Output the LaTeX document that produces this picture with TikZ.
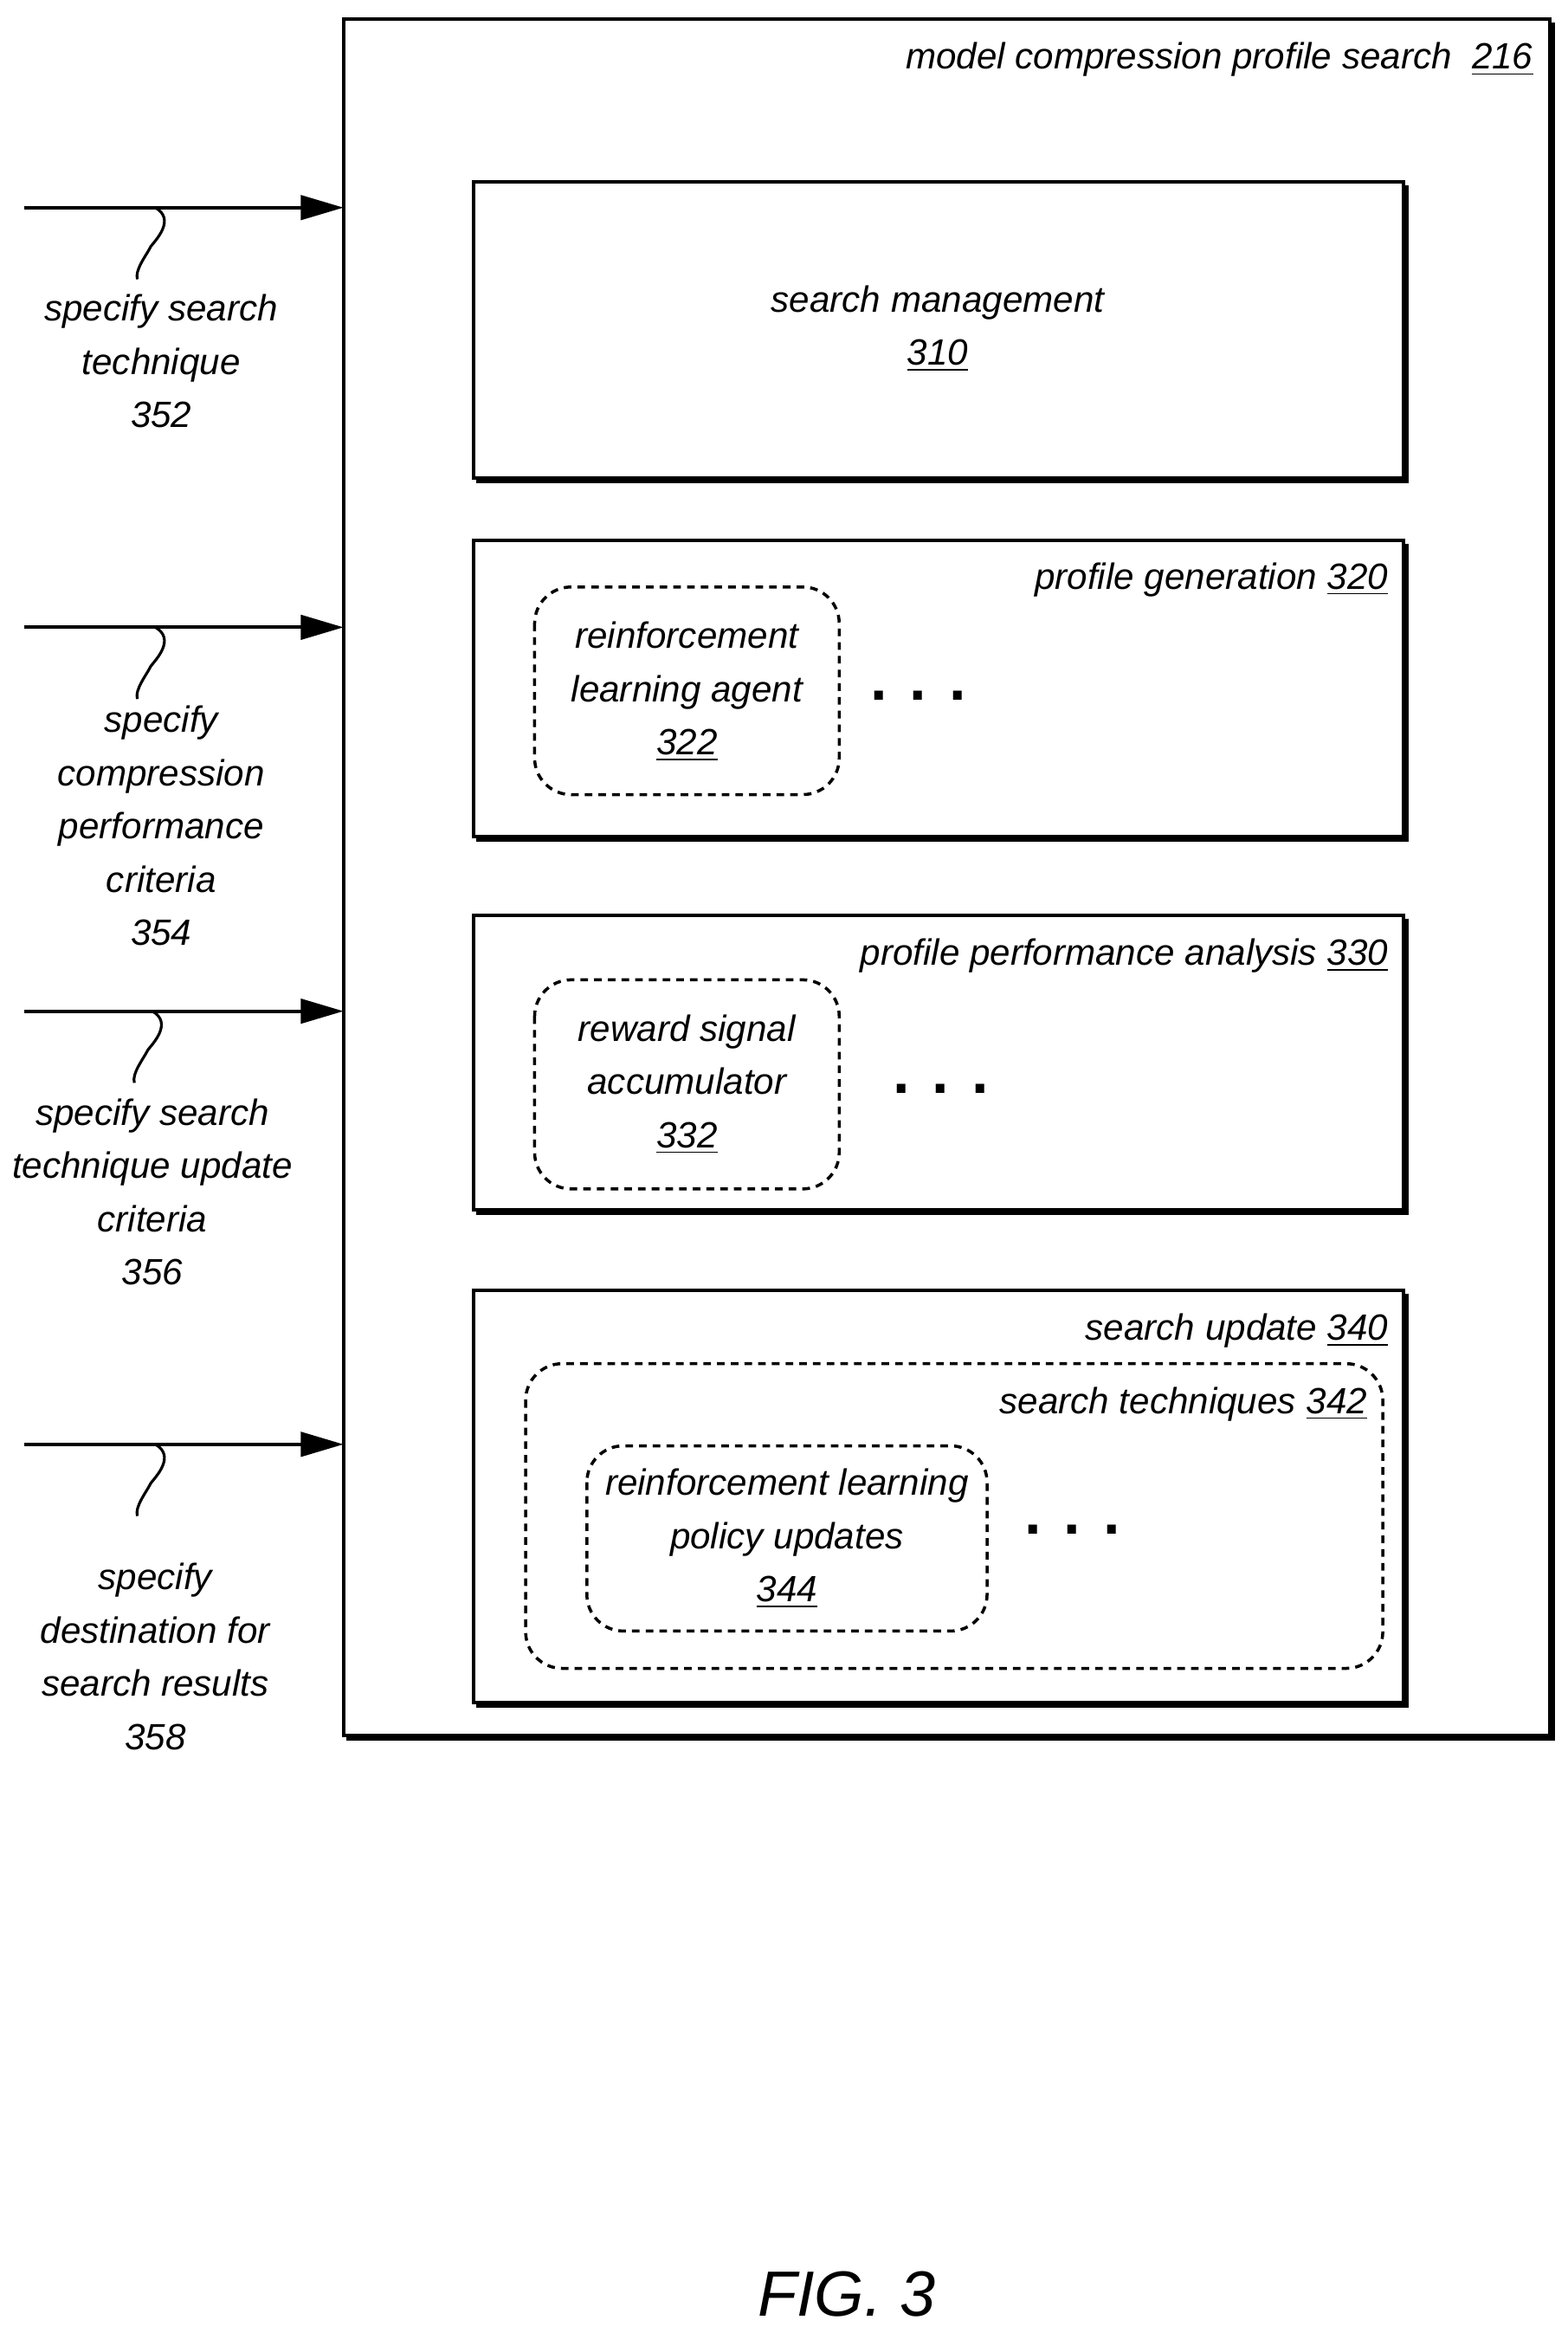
\documentclass[tikz,border=0pt]{standalone}
\usepackage{fontspec}
\setmainfont{Liberation Sans}
\usetikzlibrary{arrows.meta,calc}
\begin{document}
\begin{tikzpicture}[x=0.01724cm,y=-0.01724cm,
  txt/.style={font=\fontsize{12pt}{17.5pt}\selectfont\itshape,align=center,inner sep=0pt},
  box/.style={draw,line width=1.1pt},
  shadow/.style={line width=1.3pt},
  dbox/.style={draw,line width=1pt,dash pattern=on 2.5pt off 2pt,rounded corners=12pt},
  arr/.style={line width=1.1pt,-{Triangle[length=14pt,width=8pt]}},
  sq/.style={line width=0.9pt},
  dots/.style={font=\fontsize{20pt}{20pt}\selectfont\bfseries,inner sep=0pt}]
\useasboundingbox (0,0) rectangle (1050,1562);
% outer
\draw[box] (230,13) rectangle (1038,1162);
\draw[shadow] (1040,15) -- (1040,1164) -- (232,1164);
\coordinate (o1) at (230,139); \coordinate (o2) at (230,420);
\coordinate (o3) at (230,677); \coordinate (o4) at (230,967);
\node[txt,anchor=east] (l216) at (1027,40) {model compression profile search\ \ \underline{216}};
% 310
\draw[box] (317,122) rectangle (940,320);
\draw[shadow] (942,124) -- (942,322) -- (319,322);
\node[txt] (n310) at (628,220) {search management\\\underline{310}};
% 320
\draw[box] (317,362) rectangle (940,560);
\draw[shadow] (942,364) -- (942,562) -- (319,562);
\node[txt,anchor=east] (n320) at (930,388) {profile generation \underline{320}};
\draw[dbox] (358,393) rectangle (562,532);
\node[txt] (n322) at (460,463) {reinforcement\\learning agent\\\underline{322}};
\node[dots] (d1) at (615,466) {. . .};
% 330
\draw[box] (317,613) rectangle (940,810);
\draw[shadow] (942,615) -- (942,812) -- (319,812);
\node[txt,anchor=east] (n330) at (930,640) {profile performance analysis \underline{330}};
\draw[dbox] (358,656) rectangle (562,796);
\node[txt] (n332) at (460,726) {reward signal\\accumulator\\\underline{332}};
\node[dots] (d2) at (630,729) {. . .};
% 340
\draw[box] (317,864) rectangle (940,1140);
\draw[shadow] (942,866) -- (942,1142) -- (319,1142);
\node[txt,anchor=east] (n340) at (930,891) {search update \underline{340}};
\draw[dbox] (352,913) rectangle (926,1117);
\node[txt,anchor=east] (n342) at (916,940) {search techniques \underline{342}};
\draw[dbox] (393,968) rectangle (661,1092);
\node[txt] (n344) at (527,1030) {reinforcement learning\\policy updates\\\underline{344}};
\node[dots] (d3) at (718,1024) {. . .};
% left arrows
\foreach \i/\y in {1/139,2/420,3/677,4/967}{
  \coordinate (s\i) at (16,\y);
  \draw[arr] (s\i) -- (o\i);
}
\coordinate (q1) at (104,139); \coordinate (q2) at (104,420);
\coordinate (q3) at (102,677); \coordinate (q4) at (104,967);
\foreach \i in {1,2,3,4}{
  \draw[sq] (q\i) .. controls ($(q\i)+(14,8)$) and ($(q\i)+(0,22)$) .. ($(q\i)+(-3,26)$)
    .. controls ($(q\i)+(-6,32)$) and ($(q\i)+(-14,42)$) .. ($(q\i)+(-12,48)$);
}
\node[txt] (n352) at (108,242) {specify search\\technique\\352};
\node[txt] (n354) at (108,553) {specify\\compression\\performance\\criteria\\354};
\node[txt] (n356) at (102,798) {specify search\\technique update\\criteria\\356};
\node[txt] (n358) at (104,1109) {specify\\destination for\\search results\\358};
\node[font=\fontsize{21pt}{21pt}\selectfont\itshape,inner sep=0pt] (fig) at (567,1536) {FIG. 3};
\end{tikzpicture}
\end{document}
